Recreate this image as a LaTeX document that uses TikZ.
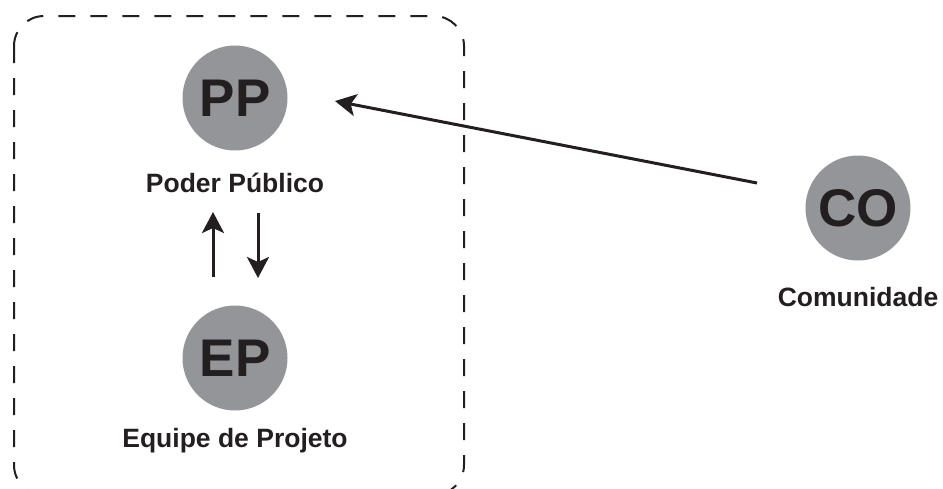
\documentclass[tikz,border=0pt]{standalone}
\usepackage{fontspec}
\setmainfont{Liberation Sans}
\usetikzlibrary{arrows.meta}
\definecolor{discgray}{RGB}{147,149,152}
\definecolor{inkblack}{RGB}{35,31,32}
\begin{document}
\begin{tikzpicture}[x=1pt,y=-1pt,
  disc/.style={circle,fill=discgray,minimum size=105pt,inner sep=0pt,
    text=inkblack,font=\fontsize{53}{53}\selectfont\bfseries},
  caption/.style={text=inkblack,font=\fontsize{26.5}{28}\selectfont\bfseries,inner sep=0pt},
  flow/.style={draw=inkblack,line width=3pt,
    -{Stealth[length=21pt,width=22pt,inset=5pt]}},
  frame/.style={draw=inkblack,line width=2pt,dash pattern=on 17pt off 15pt,
    rounded corners=30pt}]
\useasboundingbox (0,0) rectangle (943,488);

% group frame around the public side
\draw[frame] (14,16) rectangle (464,495);

% actors
\node[disc] (PP) at (235,98) {PP};
\node[caption] (PPlab) at (235,183) {Poder Público};
\node[disc] (EP) at (235,358) {EP};
\node[caption] (EPlab) at (235,441) {Equipe de Projeto};
\node[disc] (CO) at (858,208) {CO};
\node[caption] (COlab) at (858,297) {Comunidade};

% connector ends
\coordinate (coFrom) at (757,183);
\coordinate (ppTo) at (335,101);
\coordinate (upFrom) at (213,277);
\coordinate (upTo) at (213,212);
\coordinate (dnFrom) at (258,213);
\coordinate (dnTo) at (258,278);

\draw[flow] (coFrom) -- (ppTo);
\draw[flow] (upFrom) -- (upTo);
\draw[flow] (dnFrom) -- (dnTo);
\end{tikzpicture}
\end{document}
